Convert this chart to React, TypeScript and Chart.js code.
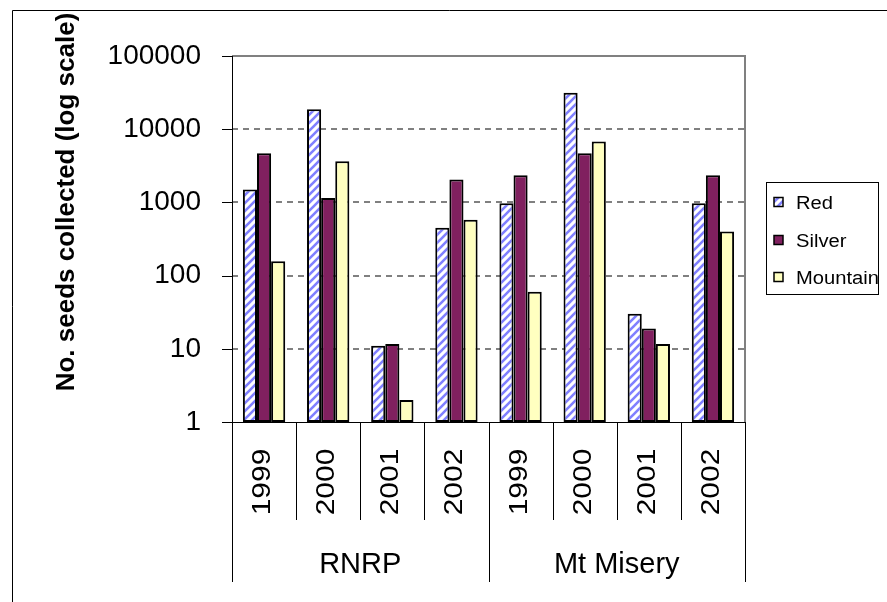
import React, { useEffect, useRef } from 'react';
import { Chart, registerables } from 'chart.js';

Chart.register(...registerables);

// ---- data ----
const years = ['1999', '2000', '2001', '2002', '1999', '2000', '2001', '2002'];
const sites = ['RNRP', 'Mt Misery'];
const seriesNames = ['Red', 'Silver', 'Mountain'];
const redSeeds = [1500, 18800, 11, 450, 970, 31500, 30, 970];
const silverSeeds = [4700, 1150, 11.6, 2050, 2350, 4700, 19, 2350];
const mountainSeeds = [157, 3650, 2, 580, 60, 6800, 11.6, 400];
const yTicks = [1, 10, 100, 1000, 10000, 100000];
const yTitle = 'No. seeds collected (log scale)';

const FONT = "'Liberation Sans', Arial, sans-serif";

function makeHatch(ctx: CanvasRenderingContext2D) {
  const c = document.createElement('canvas');
  c.width = 8;
  c.height = 8;
  const g = c.getContext('2d')!;
  g.fillStyle = '#ffffff';
  g.fillRect(0, 0, 8, 8);
  g.strokeStyle = '#8080ff';
  g.lineWidth = 2.6;
  g.beginPath();
  g.moveTo(-2, 10);
  g.lineTo(10, -2);
  g.moveTo(-2, 2);
  g.lineTo(2, -2);
  g.moveTo(6, 10);
  g.lineTo(10, 6);
  g.stroke();
  return ctx.createPattern(c, 'repeat');
}

const decor = {
  id: 'decor',
  beforeDraw(chart: any) {
    const c = chart.ctx as CanvasRenderingContext2D;
    c.save();
    c.fillStyle = '#ffffff';
    c.fillRect(0, 0, chart.width, chart.height);
    c.strokeStyle = '#000';
    c.lineWidth = 1;
    c.beginPath();
    c.moveTo(12.5, chart.height);
    c.lineTo(12.5, 10.5);
    c.lineTo(chart.width, 10.5);
    c.stroke();
    c.restore();
  },
  beforeDatasetsDraw(chart: any) {
    const c = chart.ctx as CanvasRenderingContext2D;
    const a = chart.chartArea;
    const y = chart.scales.y;
    c.save();
    c.strokeStyle = '#808080';
    c.lineWidth = 2;
    c.setLineDash([6, 5]);
    for (let i = 1; i < yTicks.length - 1; i++) {
      const py = Math.round(y.getPixelForValue(yTicks[i]));
      c.beginPath();
      c.moveTo(a.left, py);
      c.lineTo(a.right, py);
      c.stroke();
    }
    c.setLineDash([]);
    c.beginPath();
    c.moveTo(a.left, a.top);
    c.lineTo(a.right, a.top);
    c.lineTo(a.right, a.bottom);
    c.stroke();
    c.restore();
  },
  afterDatasetsDraw(chart: any) {
    const c = chart.ctx as CanvasRenderingContext2D;
    const a = chart.chartArea;
    const y = chart.scales.y;
    const x = chart.scales.x;
    const n = years.length;
    const catW = (a.right - a.left) / n;
    c.save();
    c.strokeStyle = '#000';
    c.lineWidth = 1;
    // axes
    c.beginPath();
    c.moveTo(a.left + 0.5, a.top);
    c.lineTo(a.left + 0.5, a.bottom + 0.5);
    c.lineTo(a.right, a.bottom + 0.5);
    c.stroke();
    // y tick marks
    for (const v of yTicks) {
      const py = Math.round(y.getPixelForValue(v)) + 0.5;
      c.beginPath();
      c.moveTo(a.left - 10, py);
      c.lineTo(a.left, py);
      c.stroke();
    }
    // x separators
    for (let i = 0; i <= n; i++) {
      const px = Math.round(a.left + i * catW) + 0.5;
      const len = i % 4 === 0 ? 160 : 98;
      c.beginPath();
      c.moveTo(px, a.bottom);
      c.lineTo(px, a.bottom + len);
      c.stroke();
    }
    c.fillStyle = '#000';
    // year labels
    c.font = `26px ${FONT}`;
    c.textAlign = 'center';
    c.textBaseline = 'alphabetic';
    for (let i = 0; i < n; i++) {
      const cx = x.getPixelForValue(i);
      c.save();
      c.translate(cx + 6, 482);
      c.rotate(-Math.PI / 2);
      c.scale(1.15, 1);
      c.fillText(years[i], 0, 0);
      c.restore();
    }
    // site labels
    c.font = `29px ${FONT}`;
    sites.forEach((s, g) => {
      const x0 = a.left + g * 4 * catW;
      const x1 = a.left + (g + 1) * 4 * catW;
      c.fillText(s, (x0 + x1) / 2, 573);
    });
    // y title
    c.save();
    c.translate(74, 202);
    c.rotate(-Math.PI / 2);
    c.font = `bold 26px ${FONT}`;
    c.fillText(yTitle, 0, 0);
    c.restore();
    // legend
    c.strokeStyle = '#000';
    c.lineWidth = 1;
    c.strokeRect(766.5, 182.5, 112, 112);
    const ys = [202, 240, 277];
    chart.data.datasets.forEach((ds: any, i: number) => {
      const yc = ys[i];
      c.fillStyle = ds.backgroundColor;
      c.fillRect(774, yc - 4.5, 9, 9);
      c.lineWidth = 1.5;
      c.strokeRect(774, yc - 4.5, 9, 9);
      c.fillStyle = '#000';
      c.save();
      c.translate(796, yc + 6.5);
      c.scale(1.12, 1);
      c.font = `18px ${FONT}`;
      c.textAlign = 'left';
      c.fillText(ds.label, 0, 0);
      c.restore();
    });
    c.restore();
  },
};

export default function App() {
  const ref = useRef<HTMLCanvasElement>(null);
  useEffect(() => {
    const canvas = ref.current!;
    const ctx = canvas.getContext('2d')!;
    const hatch = makeHatch(ctx);
    const common = { borderColor: '#000000', borderWidth: 2, borderSkipped: false };
    const chart = new Chart(canvas, {
      type: 'bar',
      data: {
        labels: years,
        datasets: [
          { label: seriesNames[0], data: redSeeds, backgroundColor: hatch as any, ...common },
          { label: seriesNames[1], data: silverSeeds, backgroundColor: '#80205f', ...common },
          { label: seriesNames[2], data: mountainSeeds, backgroundColor: '#ffffc0', ...common },
        ],
      },
      options: {
        responsive: false,
        animation: false,
        devicePixelRatio: 1,
        layout: { padding: { left: 0, top: 56, right: 142, bottom: 180 } },
        datasets: { bar: { categoryPercentage: 0.66, barPercentage: 1 } },
        plugins: {
          legend: { display: false },
          tooltip: { enabled: false },
          title: { display: false },
        },
        scales: {
          x: { display: false, offset: true },
          y: {
            type: 'logarithmic',
            min: 1,
            max: 100000,
            afterBuildTicks: (s: any) => {
              s.ticks = yTicks.map((v) => ({ value: v }));
            },
            afterFit: (s: any) => {
              s.width = 232;
            },
            grid: { display: false, drawTicks: false },
            border: { display: false },
            ticks: {
              callback: (v: any) => String(v),
              font: { family: FONT, size: 28 },
              color: '#000',
              padding: 31,
            },
          },
        },
      } as any,
      plugins: [decor],
    });
    return () => chart.destroy();
  }, []);
  return (
    <div style={{ position: 'absolute', left: 0, top: 0, width: 887, height: 602 }}>
      <canvas ref={ref} width={887} height={602} style={{ display: 'block' }} />
    </div>
  );
}
